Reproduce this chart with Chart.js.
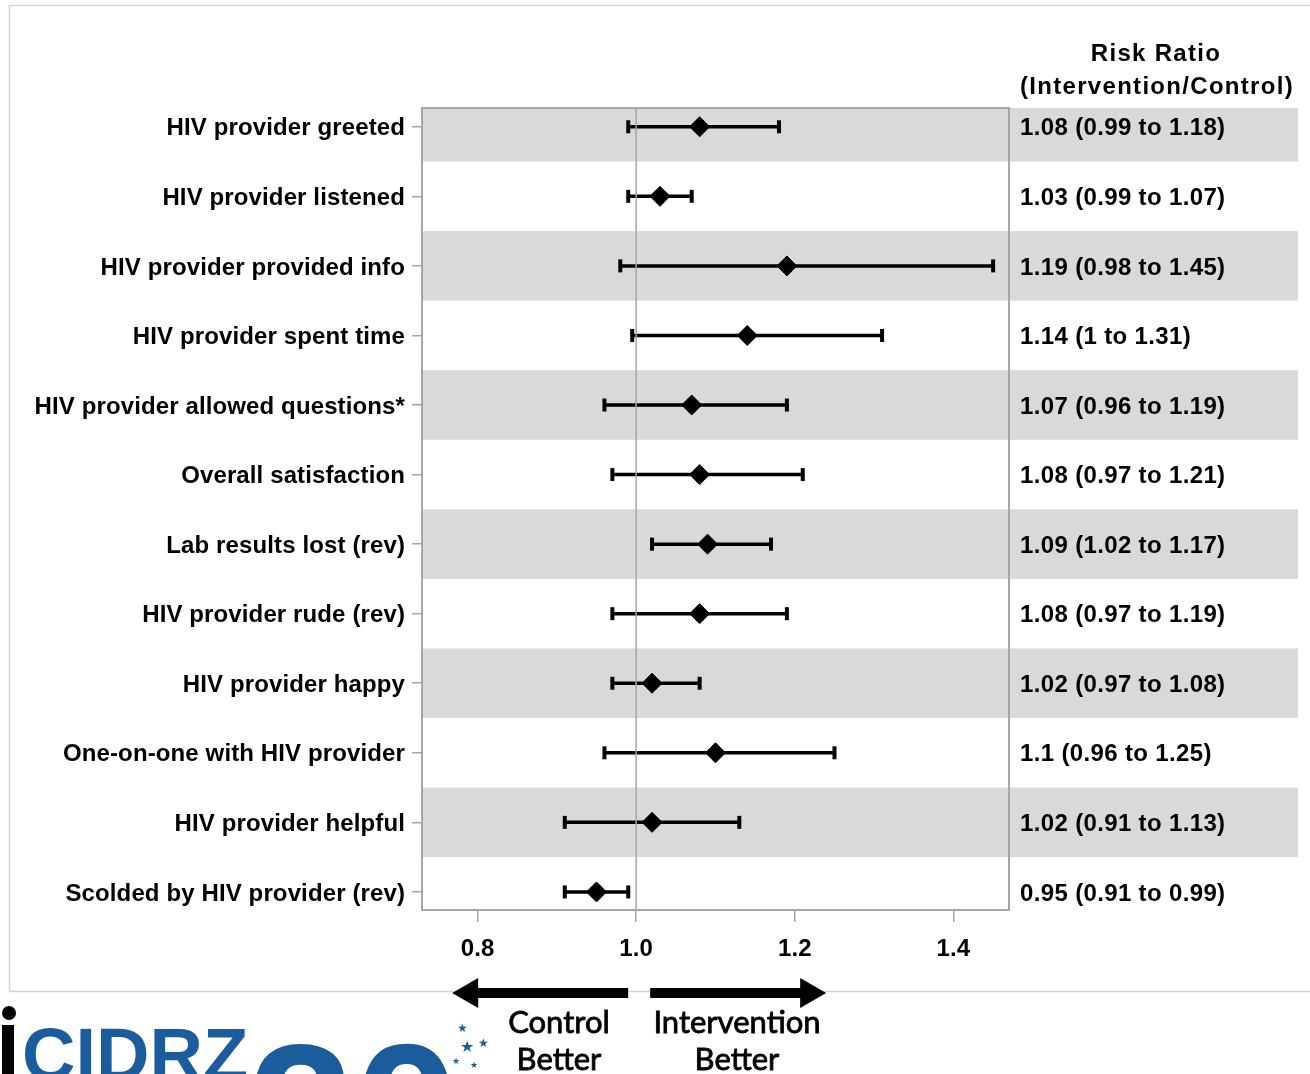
<!DOCTYPE html>
<html>
<head>
<meta charset="utf-8">
<script src="https://cdn.jsdelivr.net/npm/chart.js@4.4.1/dist/chart.umd.min.js"></script>
<style>
    body { margin: 0; background: #ffffff; }
    canvas { display: block; }
</style>
</head>
<body>
<canvas id="forestChart" width="1310" height="1074"></canvas>
<script>
const rowLabels = [
    "HIV provider greeted",
    "HIV provider listened",
    "HIV provider provided info",
    "HIV provider spent time",
    "HIV provider allowed questions*",
    "Overall satisfaction",
    "Lab results lost (rev)",
    "HIV provider rude (rev)",
    "HIV provider happy",
    "One-on-one with HIV provider",
    "HIV provider helpful",
    "Scolded by HIV provider (rev)"
];

const riskRatio = [1.08, 1.03, 1.19, 1.14, 1.07, 1.08, 1.09, 1.08, 1.02, 1.1, 1.02, 0.95];
const lowerCI = [0.99, 0.99, 0.98, 0.995, 0.96, 0.97, 1.02, 0.97, 0.97, 0.96, 0.91, 0.91];
const upperCI = [1.18, 1.07, 1.45, 1.31, 1.19, 1.21, 1.17, 1.19, 1.08, 1.25, 1.13, 0.99];

const ratioText = [
    "1.08 (0.99 to 1.18)",
    "1.03 (0.99 to 1.07)",
    "1.19 (0.98 to 1.45)",
    "1.14 (1 to 1.31)",
    "1.07 (0.96 to 1.19)",
    "1.08 (0.97 to 1.21)",
    "1.09 (1.02 to 1.17)",
    "1.08 (0.97 to 1.19)",
    "1.02 (0.97 to 1.08)",
    "1.1 (0.96 to 1.25)",
    "1.02 (0.91 to 1.13)",
    "0.95 (0.91 to 0.99)"
];

const xTicks = [0.8, 1.0, 1.2, 1.4];
const nullLine = 1.0;

const boldFont = "bold 24px 'Liberation Sans', Arial, sans-serif";
const axisGray = "#a6a6a6";
const bandGray = "#d9d9d9";

// one line per row for the confidence interval
const ciDatasets = rowLabels.map((_, i) => ({
    type: "line",
    showLine: true,
    data: [
        { x: lowerCI[i], y: i },
        { x: upperCI[i], y: i }
    ],
    borderColor: "#000000",
    borderWidth: 3.5,
    pointRadius: 0
}));

const capData = lowerCI.map((v, i) => ({ x: v, y: i }))
    .concat(upperCI.map((v, i) => ({ x: v, y: i })));

const pointData = riskRatio.map((v, i) => ({ x: v, y: i }));

const backgroundPlugin = {
    id: "background",
    beforeDraw(chart) {
        const ctx = chart.ctx;
        const area = chart.chartArea;
        const yScale = chart.scales.y;

        // axis labels get a touch of extra spacing
        ctx.letterSpacing = "0.12px";

        ctx.save();

        // outer light frame
        ctx.strokeStyle = "#d4d4d4";
        ctx.lineWidth = 1.5;
        ctx.strokeRect(9.5, 5.5, 1320, 986);

        // alternating row bands, carried into the text column
        ctx.fillStyle = bandGray;
        rowLabels.forEach((_, i) => {
            if (i % 2 !== 0) return;
            let top = yScale.getPixelForValue(i - 0.5);
            let bottom = yScale.getPixelForValue(i + 0.5);
            top = Math.max(top, area.top);
            bottom = Math.min(bottom, area.bottom);
            ctx.fillRect(area.left, top, 1298 - area.left, bottom - top);
        });

        ctx.restore();
    },
    beforeDatasetsDraw(chart) {
        const ctx = chart.ctx;
        const area = chart.chartArea;

        ctx.save();
        ctx.strokeStyle = axisGray;
        ctx.lineWidth = 2;
        ctx.strokeRect(area.left, area.top, area.right - area.left, area.bottom - area.top);
        ctx.restore();
    },
    afterDatasetsDraw(chart) {
        const ctx = chart.ctx;
        const area = chart.chartArea;
        const x = chart.scales.x.getPixelForValue(nullLine);

        ctx.save();
        ctx.strokeStyle = axisGray;
        ctx.lineWidth = 1.5;
        ctx.beginPath();
        ctx.moveTo(x, area.top);
        ctx.lineTo(x, area.bottom);
        ctx.stroke();
        ctx.restore();
    }
};

const annotationPlugin = {
    id: "annotations",
    afterDraw(chart) {
        const ctx = chart.ctx;
        const area = chart.chartArea;
        const xScale = chart.scales.x;
        const yScale = chart.scales.y;

        ctx.save();

        // right column of estimates
        ctx.fillStyle = "#000000";
        ctx.font = boldFont;
        ctx.textAlign = "left";
        ctx.textBaseline = "middle";
        ctx.letterSpacing = "0.35px";
        ratioText.forEach((t, i) => {
            ctx.fillText(t, area.right + 11, yScale.getPixelForValue(i) + 2);
        });

        ctx.textAlign = "center";
        ctx.letterSpacing = "1.3px";
        ctx.fillText("Risk Ratio", 1156, 54);
        ctx.fillText("(Intervention/Control)", 1157, 87);
        ctx.letterSpacing = "0px";

        // direction arrows
        const mid = xScale.getPixelForValue(nullLine);
        const ay = 993;
        ctx.beginPath();
        ctx.moveTo(mid - 8, ay - 5);
        ctx.lineTo(mid - 158, ay - 5);
        ctx.lineTo(mid - 158, ay - 15);
        ctx.lineTo(mid - 184, ay);
        ctx.lineTo(mid - 158, ay + 15);
        ctx.lineTo(mid - 158, ay + 5);
        ctx.lineTo(mid - 8, ay + 5);
        ctx.closePath();
        ctx.fill();

        ctx.beginPath();
        ctx.moveTo(mid + 14, ay - 5);
        ctx.lineTo(mid + 164, ay - 5);
        ctx.lineTo(mid + 164, ay - 15);
        ctx.lineTo(mid + 190, ay);
        ctx.lineTo(mid + 164, ay + 15);
        ctx.lineTo(mid + 164, ay + 5);
        ctx.lineTo(mid + 14, ay + 5);
        ctx.closePath();
        ctx.fill();

        ctx.font = "31px Lato, 'Open Sans', sans-serif";
        ctx.strokeStyle = "#000000";
        ctx.lineWidth = 0.8;
        [["Control", 559, 1023], ["Better", 559, 1060], ["Intervention", 737, 1023], ["Better", 737, 1060]]
            .forEach(([t, x, y]) => {
                ctx.fillText(t, x, y);
                ctx.strokeText(t, x, y);
            });

        // logo fragment at the bottom left
        ctx.fillStyle = "#000000";
        ctx.beginPath();
        ctx.arc(9, 1013, 7, 0, Math.PI * 2);
        ctx.fill();
        ctx.fillRect(2, 1025, 12, 49);

        ctx.fillStyle = "#1a5c9c";
        ctx.textAlign = "left";
        ctx.textBaseline = "alphabetic";
        ctx.font = "bold 74px 'Liberation Sans', Arial, sans-serif";
        ctx.fillText("CIDRZ", 22, 1080);
        ctx.font = "bold 190px 'Liberation Sans', Arial, sans-serif";
        ctx.fillText("20", 248, 1176);

        ctx.font = "12px 'DejaVu Sans', sans-serif";
        ctx.fillText("\u2605", 457, 1032);
        ctx.fillText("\u2605", 478, 1047);
        ctx.font = "16px 'DejaVu Sans', sans-serif";
        ctx.fillText("\u2605", 460, 1052);
        ctx.font = "9px 'DejaVu Sans', sans-serif";
        ctx.fillText("\u2605", 452, 1064);
        ctx.fillText("\u2605", 470, 1068);

        ctx.restore();
    }
};

new Chart(
    document.getElementById("forestChart"),
    {
        type: "scatter",

        data: {
            datasets: ciDatasets.concat([
                {
                    data: capData,
                    pointStyle: "line",
                    rotation: 90,
                    radius: 6.5,
                    borderWidth: 4,
                    borderColor: "#000000"
                },
                {
                    data: pointData,
                    pointStyle: "rectRot",
                    radius: 10,
                    backgroundColor: "#000000",
                    borderColor: "#000000",
                    borderWidth: 1
                }
            ])
        },

        options: {
            responsive: false,
            animation: false,
            layout: {
                padding: { left: 0, right: 301, top: 108, bottom: 104 }
            },
            plugins: {
                legend: { display: false },
                tooltip: { enabled: false }
            },
            scales: {
                x: {
                    type: "linear",
                    min: 0.73,
                    max: 1.47,
                    afterBuildTicks: (scale) => {
                        scale.ticks = xTicks.map(v => ({ value: v }));
                    },
                    afterFit: (scale) => {
                        scale.height = 60;
                    },
                    border: { display: false },
                    grid: {
                        color: "rgba(0,0,0,0)",
                        lineWidth: 1.5,
                        tickColor: axisGray,
                        tickLength: 12,
                        drawTicks: true
                    },
                    ticks: {
                        color: "#000000",
                        font: { family: "'Liberation Sans', Arial, sans-serif", size: 24, weight: "bold" },
                        padding: 13,
                        callback: (v) => Number(v).toFixed(1)
                    }
                },
                y: {
                    type: "linear",
                    reverse: true,
                    min: -0.27,
                    max: 11.26,
                    afterBuildTicks: (scale) => {
                        scale.ticks = rowLabels.map((_, i) => ({ value: i }));
                    },
                    afterFit: (scale) => {
                        scale.width = 422;
                    },
                    border: { display: false },
                    grid: {
                        drawOnChartArea: false,
                        tickColor: axisGray,
                        tickLength: 10,
                        lineWidth: 1.5
                    },
                    ticks: {
                        color: "#000000",
                        font: { family: "'Liberation Sans', Arial, sans-serif", size: 24, weight: "bold" },
                        padding: 7,
                        labelOffset: 2,
                        callback: (v) => rowLabels[v]
                    }
                }
            }
        },

        plugins: [backgroundPlugin, annotationPlugin]
    }
);
</script>
</body>
</html>
